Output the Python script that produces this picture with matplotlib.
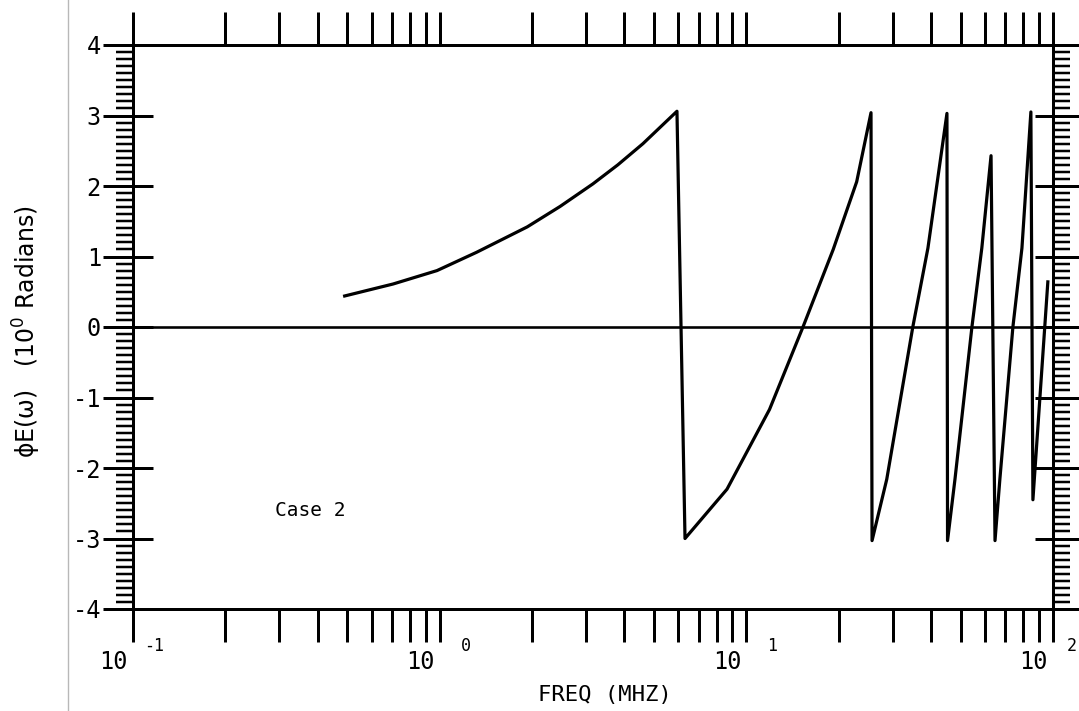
import matplotlib
matplotlib.use("Agg")
import matplotlib.pyplot as plt
from matplotlib.lines import Line2D
from matplotlib.ticker import FixedLocator, LogLocator, MultipleLocator, NullFormatter

# Phase of E(w) (principal value) versus frequency (Case 2)
freq_mhz = [0.49, 0.705, 0.98, 1.32, 1.93, 2.47, 3.16, 3.81, 4.60, 5.94,
            6.31, 8.65, 11.9, 15.3, 19.2, 22.9, 25.5,
            25.7, 28.7, 34.9, 39.1, 45.1,
            45.3, 47.9, 54.4, 58.6, 62.8,
            64.7, 67.1, 74.0, 79.2, 84.7,
            86.0, 96.2]
phase_rad = [0.44, 0.61, 0.80, 1.06, 1.42, 1.71, 2.03, 2.30, 2.60, 3.06,
             -3.00, -2.30, -1.17, 0.00, 1.10, 2.06, 3.04,
             -3.03, -2.16, 0.00, 1.12, 3.03,
             -3.03, -2.16, 0.00, 1.12, 2.43,
             -3.03, -2.16, 0.00, 1.12, 3.05,
             -2.45, 0.64]

y_ticks = [-4, -3, -2, -1, 0, 1, 2, 3, 4]
y_tick_labels = ["-4", "-3", "-2", "-1", "0", "1", "2", "3", "4"]
x_decades = [0.1, 1, 10, 100]
x_exponents = ["-1", "0", "1", "2"]
case_label = "Case 2"
x_title = "FREQ (MHZ)"
y_title = "\u03d5E(\u03c9)   (10$^0$ Radians)"

DPI = 100
PX = 72.0 / DPI          # points per pixel
W, H = 1079, 711
MONO = "DejaVu Sans Mono"

plt.rcParams["mathtext.fontset"] = "dejavusans"
plt.rcParams["mathtext.default"] = "regular"

fig = plt.figure(figsize=(W / DPI, H / DPI), dpi=DPI)
x0, x1, ytop, ybot = 133, 1053, 45, 609
ax = fig.add_axes([x0 / W, (H - ybot) / H, (x1 - x0) / W, (ybot - ytop) / H])
ax_w_px = x1 - x0

ax.set_xscale("log")
ax.set_xlim(0.1, 100)
ax.set_ylim(-4, 4)

# curve and zero reference line
ax.plot(freq_mhz, phase_rad, color="black", lw=3.2 * PX)
ax.axhline(0, color="black", lw=2.6 * PX)

for side in ax.spines.values():
    side.set_linewidth(3 * PX)

# x axis: log ticks pointing outward on top and bottom
ax.xaxis.set_major_locator(FixedLocator(x_decades))
ax.xaxis.set_minor_locator(LogLocator(base=10, subs=range(2, 10), numticks=20))
ax.xaxis.set_major_formatter(NullFormatter())
ax.xaxis.set_minor_formatter(NullFormatter())
ax.tick_params(axis="x", which="both", top=True, bottom=True, direction="out",
               length=33 * PX, width=3 * PX)

# y axis: integer ticks with dense 0.1 minor ladder on both sides
ax.set_yticks(y_ticks)
ax.set_yticklabels(y_tick_labels, fontfamily=MONO, fontsize=17)
ax.yaxis.set_minor_locator(MultipleLocator(0.1))
ax.tick_params(axis="y", which="major", left=True, right=True, direction="out",
               length=30 * PX, width=3 * PX, pad=2 * PX)
ax.tick_params(axis="y", which="minor", left=True, right=True, direction="out",
               length=17 * PX, width=2.5 * PX)

# inward stubs on the integer ticks
ytrans = ax.get_yaxis_transform()
for yv in y_ticks:
    ax.plot([0, 20 / ax_w_px], [yv, yv], transform=ytrans, color="black",
            lw=3 * PX, clip_on=False, solid_capstyle="butt")
    ax.plot([1 - 18 / ax_w_px, 1], [yv, yv], transform=ytrans, color="black",
            lw=3 * PX, clip_on=False, solid_capstyle="butt")

# decade labels written as 10 with a raised exponent
for i, (dec, ex) in enumerate(zip(x_decades, x_exponents)):
    ax.annotate("10", xy=(dec, 0), xycoords=("data", "axes fraction"),
                xytext=(-5 * PX, -53 * PX), textcoords="offset points",
                ha="right", va="center", fontfamily=MONO, fontsize=17,
                annotation_clip=False)
    # keep the last exponent inside the page edge
    ex_dx = 31 if i < len(x_decades) - 1 else 24
    ax.annotate(ex, xy=(dec, 0), xycoords=("data", "axes fraction"),
                xytext=(ex_dx * PX, -37 * PX), textcoords="offset points",
                ha="right", va="center", fontfamily=MONO, fontsize=12,
                annotation_clip=False)

ax.text(0.29, -2.6, case_label, fontfamily=MONO, fontsize=14,
        ha="left", va="center")

fig.text(605 / W, 1 - 695 / H, x_title, ha="center", va="center",
         fontfamily=MONO, fontsize=16)
fig.text(27 / W, 1 - 332 / H, y_title, rotation=90, ha="center", va="center",
         fontfamily="DejaVu Sans", fontsize=17)

# page margin rule
fig.add_artist(Line2D([68 / W, 68 / W], [0, 1], transform=fig.transFigure,
                      color="#b8b8b8", lw=1.0))

fig.savefig("out.png", dpi=DPI, facecolor="white")
